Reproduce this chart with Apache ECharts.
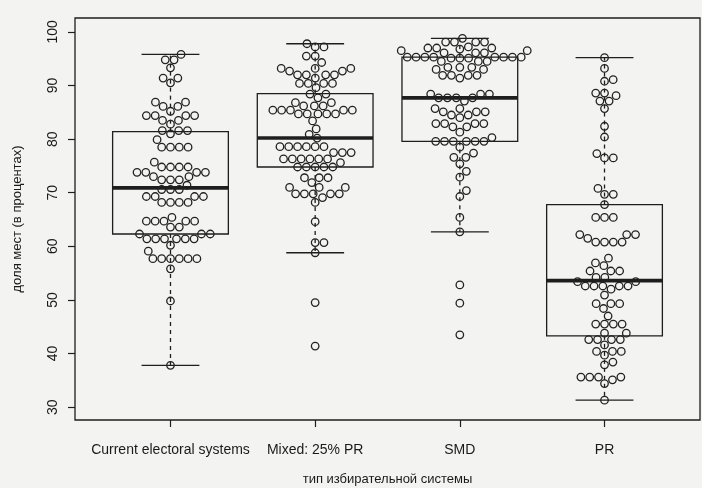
<!DOCTYPE html>
<html>
<head>
<meta charset="utf-8">
<script src="https://cdn.jsdelivr.net/npm/echarts@6/dist/echarts.min.js"></script>
<style>
  html, body { margin: 0; padding: 0; background: #f3f3f1; }
  #chart { width: 702px; height: 488px; }
</style>
</head>
<body>
<div id="chart"></div>
<script>
var categories = ['Current electoral systems', 'Mixed: 25% PR', 'SMD', 'PR']
var yTicks = [30, 40, 50, 60, 70, 80, 90, 100]

// values, one array per system
var currentVals = [95.8, 94.8, 94.8, 93.3, 91.4, 91.4, 90.5, 86.9, 86.9, 86.1, 86.1, 85.2,
  84.4, 84.4, 84.4, 84.4, 83.5, 83.5, 82.8, 81.6, 81.6, 81.6, 81.0, 79.9, 78.5, 78.5, 78.5, 78.5,
  75.7, 74.8, 74.8, 74.8, 74.8, 73.8, 73.8, 73.8, 73.8, 73.0, 73.0, 72.4, 72.4, 72.4, 71.4,
  70.6, 70.6, 70.6, 69.3, 69.3, 69.3, 69.3, 68.2, 68.2, 68.2, 68.2, 65.4, 64.7, 64.7, 64.7, 64.7, 64.7,
  63.6, 63.6, 62.3, 62.3, 62.3, 61.4, 61.4, 61.4, 61.4, 61.4, 61.4, 60.2, 59.1,
  57.7, 57.7, 57.7, 57.7, 57.7, 57.7, 55.8, 49.8, 37.8]
var mixedVals = [97.8, 97.2, 97.2, 95.5, 95.5, 94.3, 93.2, 93.2, 93.2, 92.7, 92.7, 92.0, 92.0, 92.0, 92.0,
  91.4, 90.4, 90.4, 90.4, 90.4, 89.6, 88.4, 88.4, 87.7, 86.8, 86.8, 86.2, 86.2, 86.2,
  85.4, 85.4, 85.4, 85.4, 85.4, 84.7, 84.7, 84.7, 84.7, 84.7, 83.4, 81.9, 80.9, 80.2,
  78.6, 78.6, 78.6, 78.6, 78.6, 78.6, 77.5, 77.5, 77.5, 76.3, 76.3, 76.3, 76.3, 76.3, 76.3, 75.6,
  74.8, 74.8, 74.8, 74.8, 74.8, 72.8, 72.8, 72.8, 71.9, 71.0, 71.0, 71.0,
  69.8, 69.8, 69.8, 69.8, 69.8, 69.1, 68.2, 64.6, 60.7, 60.7, 58.8, 49.5, 41.4]
var smdVals = [98.8, 98.1, 98.1, 98.1, 98.1, 97.2, 97.0, 97.0, 96.8, 97.0, 96.5, 96.5, 96.1, 96.1, 96.1,
  95.3, 95.3, 95.3, 95.3, 95.3, 95.3, 95.3, 95.3, 95.1, 95.1, 95.1, 94.5, 94.5, 94.5,
  93.4, 93.4, 93.4, 93.0, 93.0, 91.9, 91.9, 91.9, 91.9, 91.4, 88.4, 88.4, 88.4,
  87.7, 87.7, 87.7, 87.7, 87.1, 85.7, 85.7, 85.1, 85.1, 85.1, 84.5, 84.5, 84.0,
  82.9, 82.9, 82.9, 82.9, 82.3, 82.3, 81.3, 80.3, 79.6, 79.6, 79.6, 79.6, 79.6, 79.6,
  78.5, 77.4, 76.6, 76.6, 75.4, 74.0, 72.9, 70.4, 69.3, 65.4, 62.7, 52.8, 49.4, 43.5]
var prVals = [95.2, 93.2, 91.1, 90.8, 88.6, 88.6, 88.1, 87.1, 87.1, 85.7, 82.4, 80.4, 77.3, 76.5, 76.5,
  70.8, 69.7, 69.7, 67.8, 65.4, 65.4, 65.4, 62.2, 62.2, 62.2, 61.5, 60.8, 60.8, 60.8, 60.8,
  57.8, 56.9, 56.4, 55.4, 55.4, 55.4, 54.2, 54.2, 53.4, 53.4, 52.6, 52.6, 52.6, 52.6, 52.6, 52.0,
  50.9, 49.3, 49.3, 49.3, 48.4, 47.0, 45.5, 45.5, 45.5, 45.5, 43.8, 43.8,
  42.6, 42.6, 42.6, 42.6, 41.6, 40.4, 40.4, 40.4, 39.7, 38.4, 37.9,
  35.6, 35.6, 35.6, 35.6, 35.1, 34.4, 31.3]

// box statistics per system
var whiskerLow = [37.8, 58.8, 62.7, 31.3]
var quart1 = [62.3, 74.8, 79.6, 43.3]
var medians = [70.9, 80.2, 87.7, 53.6]
var quart3 = [81.4, 88.5, 95.3, 67.8]
var whiskerHigh = [95.8, 97.8, 98.8, 95.2]

var yMin = 27.6, yMax = 102.6
var xMin = 0.34, xMax = 4.66
var gridLeft = 75, gridRight = 2, gridTop = 18, gridHeight = 402
var gridWidth = 702 - gridLeft - gridRight
var pxPerX = gridWidth / (xMax - xMin)
var pxPerY = gridHeight / (yMax - yMin)
var dotGap = 8.8

// beeswarm: each point goes to the spot nearest the centre that does not hit one already placed
function swarm(vals, pos) {
  var sorted = vals.slice().sort(function (a, b) { return a - b })
  var placed = []
  var out = []
  sorted.forEach(function (v) {
    var y = v * pxPerY
    var cands = [0]
    placed.forEach(function (p) {
      var dy = Math.abs(p.y - y)
      if (dy < dotGap) {
        var dx = Math.sqrt(dotGap * dotGap - dy * dy)
        cands.push(p.x + dx, p.x - dx)
      }
    })
    cands.sort(function (a, b) { return Math.abs(a) - Math.abs(b) })
    var best = 0
    for (var i = 0; i < cands.length; i++) {
      var ok = placed.every(function (p) {
        var ddx = p.x - cands[i], ddy = p.y - y
        return ddx * ddx + ddy * ddy >= dotGap * dotGap - 0.01
      })
      if (ok) { best = cands[i]; break }
    }
    placed.push({ x: best, y: y })
    out.push([pos + best / pxPerX, v])
  })
  return out
}

var allGroups = [currentVals, mixedVals, smdVals, prVals]
var dots = []
allGroups.forEach(function (vals, i) {
  dots = dots.concat(swarm(vals, i + 1))
})

var boxData = categories.map(function (c, i) {
  return [i + 1, whiskerLow[i], quart1[i], medians[i], quart3[i], whiskerHigh[i]]
})

var ink = '#1e1e1e'

function renderBox(params, api) {
  var x = api.value(0)
  var low = api.coord([x, api.value(1)])
  var q1 = api.coord([x, api.value(2)])
  var med = api.coord([x, api.value(3)])
  var q3 = api.coord([x, api.value(4)])
  var high = api.coord([x, api.value(5)])
  var half = api.size([0.4, 0])[0]
  var stap = api.size([0.2, 0])[0]
  var cx = med[0]
  var lineStyle = { stroke: ink, lineWidth: 1.3, fill: null }
  var dashStyle = { stroke: ink, lineWidth: 1.3, lineDash: [4, 4], fill: null }
  return {
    type: 'group',
    children: [
      { type: 'line', shape: { x1: cx, y1: q3[1], x2: cx, y2: high[1] }, style: dashStyle },
      { type: 'line', shape: { x1: cx, y1: q1[1], x2: cx, y2: low[1] }, style: dashStyle },
      { type: 'line', shape: { x1: cx - stap, y1: high[1], x2: cx + stap, y2: high[1] }, style: lineStyle },
      { type: 'line', shape: { x1: cx - stap, y1: low[1], x2: cx + stap, y2: low[1] }, style: lineStyle },
      { type: 'rect', shape: { x: cx - half, y: q3[1], width: half * 2, height: q1[1] - q3[1] }, style: lineStyle },
      { type: 'line', shape: { x1: cx - half, y1: med[1], x2: cx + half, y2: med[1] }, style: { stroke: ink, lineWidth: 3.6 } }
    ]
  }
}

var myChart = echarts.init(document.getElementById('chart'))
myChart.setOption({
  backgroundColor: '#f3f3f1',
  animation: false,
  textStyle: { fontFamily: 'Liberation Sans, Arial, sans-serif', color: '#1a1a1a' },
  grid: {
    left: gridLeft, right: gridRight, top: gridTop, height: gridHeight,
    show: true, borderColor: ink, borderWidth: 1.3, backgroundColor: 'transparent',
    outerBoundsMode: 'none'
  },
  xAxis: {
    type: 'value', min: xMin, max: xMax,
    name: 'тип избирательной системы', nameLocation: 'middle', nameGap: 53,
    nameTextStyle: { fontSize: 13, color: '#1a1a1a' },
    axisLine: { show: false },
    splitLine: { show: false },
    axisTick: { show: true, customValues: [1, 2, 3, 4], length: 7, lineStyle: { color: ink, width: 1.2 } },
    axisLabel: {
      customValues: [1, 2, 3, 4], margin: 23, fontSize: 14, color: '#1a1a1a',
      formatter: function (v) { return categories[Math.round(v) - 1] }
    }
  },
  yAxis: {
    type: 'value', min: yMin, max: yMax,
    name: 'доля мест (в процентах)', nameLocation: 'middle', nameGap: 51,
    nameTextStyle: { fontSize: 13, color: '#1a1a1a' },
    axisLine: { show: false },
    splitLine: { show: false },
    axisTick: { show: true, customValues: yTicks, length: 7, lineStyle: { color: ink, width: 1.2 } },
    axisLabel: { customValues: yTicks, rotate: 90, margin: 15, fontSize: 14, color: '#1a1a1a' }
  },
  series: [{
    type: 'custom',
    renderItem: renderBox,
    encode: { x: 0, y: [1, 2, 3, 4, 5] },
    data: boxData,
    z: 2
  }, {
    type: 'scatter',
    data: dots,
    symbol: 'circle',
    symbolSize: 7.5,
    itemStyle: { color: 'rgba(0,0,0,0)', borderColor: '#222', borderWidth: 1.3, opacity: 1 },
    z: 3
  }]
})
</script>
</body>
</html>
